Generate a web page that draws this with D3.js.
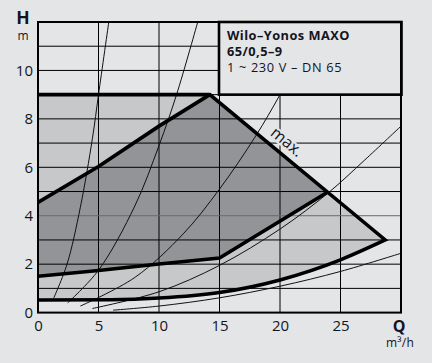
<!DOCTYPE html>
<html>
<head>
<meta charset="utf-8">
<script src="https://cdn.jsdelivr.net/npm/d3@7"></script>
<style>
  html, body { margin: 0; padding: 0; background: #e4e5e6; }
  svg { display: block; }
  text { font-family: "Open Sans", "Noto Sans", sans-serif; fill: #14141f; }
</style>
</head>
<body>
<svg id="chart" width="432" height="363"></svg>
<script>
// ---------- data ----------
const qTicks = [0, 5, 10, 15, 20, 25];
const hTicks = [0, 2, 4, 6, 8, 10];
const qGrid = [5, 10, 15, 20, 25];
const hGrid = [1, 2, 3, 4, 5, 6, 7, 8, 9, 10, 11];

// max. characteristic (upper boundary)
const maxQ = [0, 14.2, 28.7];
const maxH = [9, 9, 3];
// min. characteristic (lower boundary)
const minQ = [0, 6, 10, 15, 20, 25, 28.7];
const minH = [0.52, 0.53, 0.6, 0.83, 1.35, 2.18, 3.0];
// dark region: upper edge
const darkTopQ = [0, 5, 10, 14.2];
const darkTopH = [4.55, 6.03, 7.7, 9];
// dark region: lower edge (left to right)
const darkBotQ = [0, 5, 10, 15, 23.95];
const darkBotH = [1.5, 1.74, 2.01, 2.25, 4.98];

// thin system curves (read points)
const sysA_Q = [1.3, 2.4, 3.5, 4.5, 5.0, 5.85];
const sysA_H = [0.6, 2.0, 4.35, 7.2, 9.0, 12.0];
const sysB_Q = [2.45, 5, 8, 10, 11.45, 13.2];
const sysB_H = [0.4, 1.75, 4.4, 6.9, 9.0, 12.0];
const sysC_Q = [3.5, 8, 12, 15, 18, 20, 22];
const sysC_H = [0.27, 1.45, 3.25, 5.1, 7.3, 9.0, 10.9];
const sysD_Q = [4.5, 10, 15, 20, 24, 27, 30];
const sysD_H = [0.17, 0.86, 1.95, 3.45, 4.95, 6.3, 7.7];
const sysE_Q = [6.2, 10, 15, 20, 25, 30];
const sysE_H = [0.1, 0.27, 0.61, 1.09, 1.7, 2.45];

const legendLines = ["Wilo–Yonos MAXO", "65/0,5–9", "1 ~ 230 V – DN 65"];

// ---------- drawing ----------
const zip = (qs, hs) => qs.map((q, i) => [q, hs[i]]);
const svg = d3.select("#chart");
const x = d3.scaleLinear().domain([0, 30]).range([38, 401]);
const y = d3.scaleLinear().domain([0, 12]).range([312.6, 22]);

const BG = "#e4e5e6", LIGHT = "#c7c8ca", DARK = "#939497";

svg.append("defs").append("clipPath").attr("id", "plotclip")
  .append("rect").attr("x", x(0)).attr("y", y(12))
  .attr("width", x(30) - x(0)).attr("height", y(0) - y(12));

const line = d3.line().x(d => x(d[0])).y(d => y(d[1]));
const smooth = d3.line().x(d => x(d[0])).y(d => y(d[1])).curve(d3.curveMonotoneX);

const plot = svg.append("g").attr("clip-path", "url(#plotclip)");
plot.append("rect").attr("x", x(0)).attr("y", y(12))
  .attr("width", x(30) - x(0)).attr("height", y(0) - y(12)).attr("fill", BG);

const maxPts = zip(maxQ, maxH);
const minPts = zip(minQ, minH);
const minRevPath = smooth(minPts.slice().reverse());

// light region: max curve then min curve back
plot.append("path")
  .attr("d", line(maxPts) + "L" + minRevPath.slice(1) + "Z")
  .attr("fill", LIGHT);

// dark region
const darkTop = zip(darkTopQ, darkTopH);
const darkBot = zip(darkBotQ, darkBotH);
plot.append("path")
  .attr("d", line(darkTop) + "L" + line(darkBot.slice().reverse()).slice(1) + "Z")
  .attr("fill", DARK);

// grid
const grid = plot.append("g");
grid.selectAll("line.v").data(qGrid).join("line").attr("class", "v")
  .attr("x1", d => x(d)).attr("x2", d => x(d)).attr("y1", y(0)).attr("y2", y(12))
  .attr("stroke", "#000").attr("stroke-width", 1);
grid.selectAll("line.h").data(hGrid).join("line").attr("class", "h")
  .attr("x1", x(0)).attr("x2", x(30)).attr("y1", d => y(d)).attr("y2", d => y(d))
  .attr("stroke", d => d === 4 ? "#6a6b6e" : "#000").attr("stroke-width", 1);

// "max." label with knockout halo
const ang = Math.atan2(y(3) - y(9), x(28.7) - x(14.2)) * 180 / Math.PI;
const lq = 19.9, lh = 9 + (3 - 9) * (lq - 14.2) / (28.7 - 14.2);
plot.append("text")
  .attr("transform", `translate(${x(lq)},${y(lh)}) rotate(${ang})`)
  .attr("dy", -7.5).attr("text-anchor", "middle")
  .attr("font-size", 16)
  .attr("stroke", BG).attr("stroke-width", 4).attr("paint-order", "stroke")
  .text("max.");

// thin system curves
const sys = [zip(sysA_Q, sysA_H), zip(sysB_Q, sysB_H), zip(sysC_Q, sysC_H), zip(sysD_Q, sysD_H), zip(sysE_Q, sysE_H)];
plot.selectAll("path.sys").data(sys).join("path").attr("class", "sys")
  .attr("d", d => d3.line().x(p => x(p[0])).y(p => y(p[1])).curve(d3.curveCatmullRom)(d))
  .attr("fill", "none").attr("stroke", "#111").attr("stroke-width", 1);

// thick curves
function thickPath(d) {
  return plot.append("path").attr("d", d).attr("fill", "none")
    .attr("stroke", "#000").attr("stroke-width", 3.6).attr("stroke-linejoin", "miter");
}
thickPath(line(maxPts) + "L" + minRevPath.slice(1));
thickPath(line(darkTop));
thickPath(line(darkBot));

// legend box
svg.append("rect").attr("x", x(15) - 0.5).attr("y", y(12)).attr("width", x(30) - x(15) + 1).attr("height", y(9) - y(12))
  .attr("fill", BG).attr("stroke", "#000").attr("stroke-width", 2.6);
svg.selectAll("text.leg").data(legendLines).join("text").attr("class", "leg")
  .attr("x", 227).attr("y", (d, i) => 40 + i * 16.2)
  .attr("font-size", 12.8).attr("letter-spacing", (d, i) => i < 2 ? 0.45 : 0.65)
  .attr("font-weight", (d, i) => i < 2 ? 700 : 400)
  .text(d => d);

// frame
svg.append("rect").attr("x", x(0)).attr("y", y(12)).attr("width", x(30) - x(0)).attr("height", y(0) - y(12))
  .attr("fill", "none").attr("stroke", "#000").attr("stroke-width", 2);

// axes labels
const xAxis = d3.axisBottom(x).tickValues(qTicks).tickSize(0).tickPadding(8).tickFormat(d3.format("d"));
const gx = svg.append("g").attr("transform", `translate(0,${y(0)})`).call(xAxis);
gx.select(".domain").remove();
gx.selectAll("text").attr("font-size", 15).attr("fill", "#14141f").attr("font-family", null);

const yAxis = d3.axisLeft(y).tickValues(hTicks).tickSize(0).tickPadding(5).tickFormat(d3.format("d"));
const gy = svg.append("g").attr("transform", `translate(${x(0)},0)`).call(yAxis);
gy.select(".domain").remove();
gy.selectAll("text").attr("font-size", 15).attr("fill", "#14141f").attr("font-family", null);

svg.append("text").attr("x", 23).attr("y", 24).attr("text-anchor", "middle")
  .attr("font-size", 17.5).attr("font-weight", 700).text("H");
svg.append("text").attr("x", 23).attr("y", 39.5).attr("text-anchor", "middle")
  .attr("font-size", 12).text("m");
svg.append("text").attr("x", 399).attr("y", 332).attr("text-anchor", "middle")
  .attr("font-size", 16).attr("font-weight", 700).text("Q");
svg.append("text").attr("x", 400).attr("y", 346.5).attr("text-anchor", "middle")
  .attr("font-size", 12).attr("letter-spacing", 0.3).text("m³/h");
</script>
</body>
</html>
